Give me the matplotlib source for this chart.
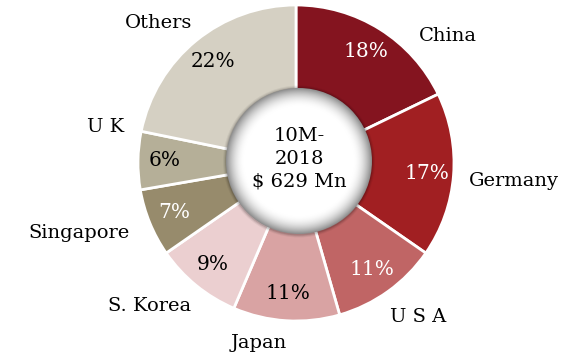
import numpy as np
import matplotlib.pyplot as plt
from matplotlib.patches import Circle

W, H = 582, 357

countries = ["China", "Germany", "U S A", "Japan", "S. Korea", "Singapore", "U K", "Others"]
shares = [18, 17, 11, 11, 9, 7, 6, 22]
colors = ["#84141f", "#a11f22", "#c06565", "#d9a3a3", "#ebcfd0", "#978b6c", "#b5af98", "#d5d0c3"]
pct_colors = ["white", "white", "white", "black", "black", "white", "black", "black"]
center_text = "10M-\n2018\n$ 629 Mn"

# label anchor points in pixel coords (x from left, y from top)
label_xy = [(448, 36), (514, 181), (418, 317), (259, 343),
            (150, 306), (79, 233), (106, 127), (159, 23)]

cx, cy, R = 296, 163, 158

plt.rcParams["font.family"] = ["DejaVu Serif"]

fig = plt.figure(figsize=(W / 100, H / 100), dpi=100)
ax = fig.add_axes([0, 0, 1, 1])

total = sum(shares)
wedges, texts, autotexts = ax.pie(
    shares, colors=colors, startangle=90, counterclock=False,
    center=(cx, H - cy), radius=R, frame=True,
    autopct=lambda p: f"{p * total / 100:.0f}%", pctdistance=0.83,
    wedgeprops=dict(width=R * 0.6, edgecolor="white", linewidth=2),
    textprops=dict(fontsize=14.5))
ax.set_aspect("equal")
ax.axis("off")

for t, c in zip(autotexts, pct_colors):
    t.set_color(c)

for name, (x, y) in zip(countries, label_xy):
    ax.text(x, H - y, name, fontsize=14, ha="center", va="center", color="black")

# shaded disc in the middle, with a soft rim shadow
ccx, ccy, cr = 299, H - 161, 73
for k, a in [(3, 0.05), (2, 0.08), (1, 0.12)]:
    ax.add_patch(Circle((ccx, ccy - 0.5), cr + k, color="black", alpha=a, lw=0, zorder=3))

n = 300
gx, gy = np.meshgrid(np.linspace(-1, 1, n), np.linspace(-1, 1, n))
rr = np.sqrt(gx ** 2 + gy ** 2)
shade = np.where(rr < 0.74, 1.0, 1.0 - 0.45 * ((rr - 0.74) / 0.26) ** 2.0)
shade = np.clip(shade, 0.5, 1.0)
disc = Circle((ccx, ccy), cr, transform=ax.transData, facecolor="none", lw=0)
ax.add_patch(disc)
img = ax.imshow(shade, cmap="gray", vmin=0, vmax=1,
                extent=(ccx - cr, ccx + cr, ccy - cr, ccy + cr), zorder=4,
                interpolation="bilinear")
img.set_clip_path(disc)

ax.text(ccx, ccy + 2, center_text, fontsize=14, ha="center", va="center",
        linespacing=1.35, zorder=5, color="black")

ax.set_xlim(0, W)
ax.set_ylim(0, H)

fig.savefig("out.png", dpi=100)
